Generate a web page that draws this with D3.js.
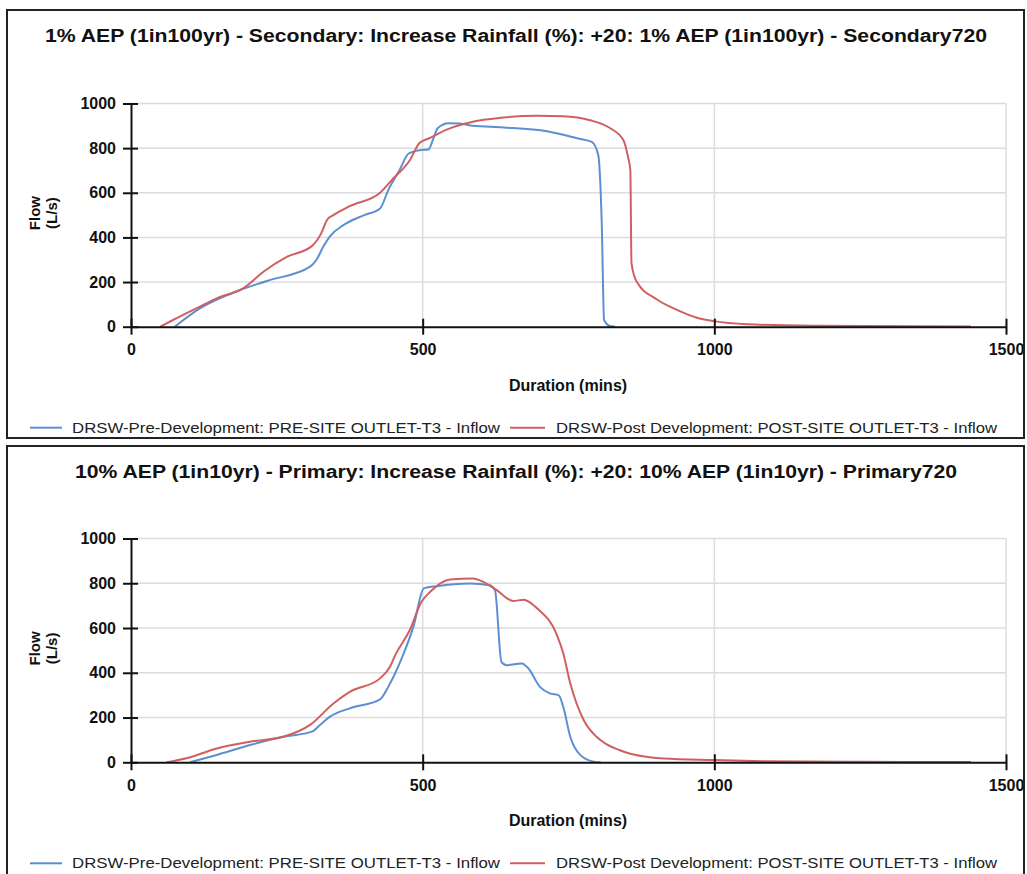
<!DOCTYPE html>
<html>
<head>
<meta charset="utf-8">
<script src="https://cdn.jsdelivr.net/npm/d3@7"></script>
<style>
  html, body { margin: 0; padding: 0; background: #fff; }
  svg { display: block; font-family: "Liberation Sans", Arial, sans-serif; }
</style>
</head>
<body>
<svg id="chart" width="1027" height="874"></svg>
<script>
// Hydrograph data: [duration (mins), flow (L/s)]
const preSecondary = [
  [75, 0], [118, 82], [187, 164], [233, 205], [307, 269], [318, 300], [330, 360],
  [341, 405], [364, 455], [400, 500], [427, 530], [441, 612], [460, 700], [476, 776],
  [495, 791], [510, 794], [518, 840], [526, 890], [544, 912], [564, 910], [586, 900],
  [638, 893], [713, 876], [741, 860], [767, 843], [790, 828], [801, 769], [807, 463],
  [811, 30], [821, 3], [830, 0]
];
const postSecondary = [
  [50, 0], [72, 30], [118, 90], [147, 127], [195, 176], [227, 246], [267, 313],
  [310, 361], [326, 418], [336, 478], [347, 500], [375, 540], [427, 600], [447, 657],
  [478, 746], [495, 824], [513, 846], [541, 883], [581, 915], [638, 937], [696, 945],
  [741, 943], [787, 925], [821, 890], [844, 836], [852, 760], [856, 701], [858, 284],
  [867, 201], [901, 123], [936, 75], [970, 40], [999, 25], [1056, 11], [1170, 4], [1440, 1]
];
const prePrimary = [
  [101, 0], [147, 33], [204, 77], [261, 114], [310, 137], [324, 167], [341, 204],
  [375, 241], [427, 281], [441, 337], [464, 464], [484, 605], [502, 777], [524, 787],
  [581, 799], [615, 791], [624, 769], [635, 449], [644, 434], [670, 442], [681, 420],
  [701, 337], [718, 308], [733, 300], [741, 248], [753, 114], [770, 33], [793, 3], [805, 0]
];
const postPrimary = [
  [61, 0], [95, 18], [147, 62], [204, 92], [261, 114], [307, 167], [347, 263],
  [375, 315], [427, 375], [444, 427], [453, 479], [478, 591], [498, 717], [513, 762],
  [547, 817], [586, 821], [604, 806], [627, 769], [655, 721], [673, 726], [696, 688],
  [730, 569], [741, 487], [753, 353], [776, 189], [798, 114], [812, 86], [838, 54],
  [856, 38], [880, 26], [913, 17], [999, 10], [1084, 5], [1250, 2], [1440, 1]
];

const xTicks = [0, 500, 1000, 1500];
const yTicks = [0, 200, 400, 600, 800, 1000];
const legendLabels = [
  "DRSW-Pre-Development: PRE-SITE OUTLET-T3 - Inflow",
  "DRSW-Post Development: POST-SITE OUTLET-T3 - Inflow"
];
const titles = [
  "1% AEP (1in100yr) - Secondary: Increase Rainfall (%): +20: 1% AEP (1in100yr) - Secondary720",
  "10% AEP (1in10yr) - Primary: Increase Rainfall (%): +20: 10% AEP (1in10yr) - Primary720"
];
const xLabel = "Duration (mins)";
const yLabel = ["Flow", "(L/s)"];

const BLUE = "#5b8fd2";
const RED = "#d0605f";
const FONT = "'Liberation Sans', Arial, sans-serif";

const svg = d3.select("#chart");

const panels = [
  { top: 10, bottom: 438, title: titles[0], titleW: 942, pre: preSecondary, post: postSecondary,
    plotTop: 103.5, plotBottom: 326.7 },
  { top: 446, bottom: 884, title: titles[1], titleW: 882, pre: prePrimary, post: postPrimary,
    plotTop: 538.5, plotBottom: 762.3 }
];

panels.forEach(p => {
  const g = svg.append("g");

  const x = d3.scaleLinear().domain([0, 1500]).range([131, 1006]);
  const y = d3.scaleLinear().domain([0, 1000]).range([p.plotBottom, p.plotTop]);

  // title
  g.append("text")
    .attr("x", 516).attr("y", p.top + 32)
    .attr("text-anchor", "middle")
    .attr("font-size", 18).attr("font-weight", "bold").attr("fill", "#111")
    .attr("textLength", p.titleW).attr("lengthAdjust", "spacingAndGlyphs")
    .text(p.title);

  // gridlines
  g.append("g").selectAll("line").data(yTicks.filter(v => v > 0)).join("line")
    .attr("x1", x(0)).attr("x2", x(1500))
    .attr("y1", d => y(d)).attr("y2", d => y(d))
    .attr("stroke", "#dcdcdc").attr("stroke-width", 1.5);
  g.append("g").selectAll("line").data(xTicks.filter(v => v > 0)).join("line")
    .attr("x1", d => x(d)).attr("x2", d => x(d))
    .attr("y1", y(0)).attr("y2", y(1000))
    .attr("stroke", "#dcdcdc").attr("stroke-width", 1.5);

  // series
  const line = d3.line().x(d => x(d[0])).y(d => y(d[1])).curve(d3.curveMonotoneX);
  g.append("path").datum(p.pre).attr("d", line)
    .attr("fill", "none").attr("stroke", BLUE).attr("stroke-width", 2);
  g.append("path").datum(p.post).attr("d", line)
    .attr("fill", "none").attr("stroke", RED).attr("stroke-width", 2);

  // x axis
  const xAxis = d3.axisBottom(x).tickValues(xTicks).tickFormat(d3.format("d"))
    .tickSizeInner(8).tickSizeOuter(0).tickPadding(9);
  const gx = g.append("g").attr("transform", `translate(0,${y(0)})`).call(xAxis);
  gx.select(".domain").attr("stroke", "#111").attr("stroke-width", 2);
  gx.selectAll(".tick line").attr("stroke", "#111").attr("stroke-width", 2).attr("y1", -8);
  gx.selectAll(".tick text").attr("font-size", 16).attr("font-weight", "bold")
    .attr("fill", "#111").attr("font-family", FONT);

  // y axis
  const yAxis = d3.axisLeft(y).tickValues(yTicks).tickFormat(d3.format("d"))
    .tickSizeInner(8).tickSizeOuter(0).tickPadding(7);
  const gy = g.append("g").attr("transform", `translate(${x(0)},0)`).call(yAxis);
  gy.select(".domain").attr("stroke", "#111").attr("stroke-width", 2);
  gy.selectAll(".tick line").attr("stroke", "#111").attr("stroke-width", 2).attr("x1", 7);
  gy.selectAll(".tick text").attr("font-size", 16).attr("font-weight", "bold")
    .attr("fill", "#111").attr("font-family", FONT);

  // axis titles
  g.append("text")
    .attr("x", 568).attr("y", y(0) + 64)
    .attr("text-anchor", "middle").attr("font-size", 16).attr("font-weight", "bold")
    .attr("fill", "#111").text(xLabel);
  const yMid = (p.plotTop + p.plotBottom) / 2 - 2;
  [40, 57].forEach((bx, i) => {
    g.append("text")
      .attr("transform", `translate(${bx},${yMid}) rotate(-90)`)
      .attr("text-anchor", "middle").attr("font-size", 15).attr("font-weight", "bold")
      .attr("fill", "#111").text(yLabel[i]);
  });

  // legend
  const ly = p.plotBottom + 101;
  const leg = [
    { x1: 30, x2: 62, tx: 72, tw: 428, color: BLUE, label: legendLabels[0] },
    { x1: 510, x2: 545, tx: 556, tw: 441, color: RED, label: legendLabels[1] }
  ];
  leg.forEach(l => {
    g.append("line").attr("x1", l.x1).attr("x2", l.x2).attr("y1", ly).attr("y2", ly)
      .attr("stroke", l.color).attr("stroke-width", 2);
    g.append("text").attr("x", l.tx).attr("y", ly + 5)
      .attr("font-size", 15).attr("fill", "#222")
      .attr("textLength", l.tw).attr("lengthAdjust", "spacingAndGlyphs")
      .text(l.label);
  });

  // panel frame
  g.append("rect")
    .attr("x", 7).attr("y", p.top)
    .attr("width", 1017).attr("height", p.bottom - p.top)
    .attr("fill", "none").attr("stroke", "#222").attr("stroke-width", 2);
});
</script>
</body>
</html>
